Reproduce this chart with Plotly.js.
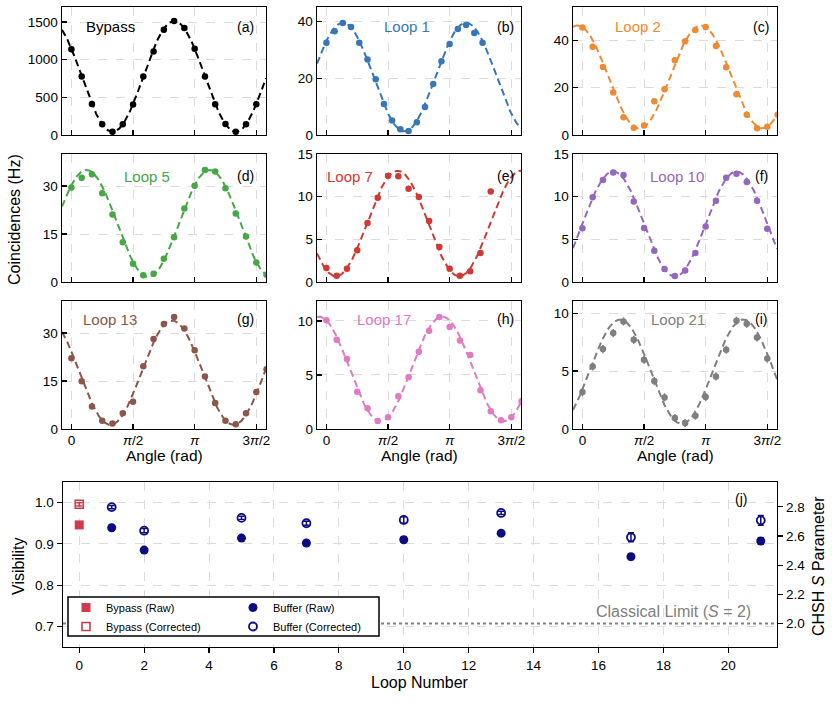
<!DOCTYPE html>
<html>
<head>
<meta charset="utf-8">
<script src="https://cdn.plot.ly/plotly-3.0.1.min.js"></script>
<style>
  html, body { margin: 0; padding: 0; background: #fff; }
  #chart { width: 832px; height: 714px; }
</style>
</head>
<body>
<div id="chart"></div>
<script>
// ---- Polarisation-analyser angles (degrees) ----
const angles15 = [0, 15, 30, 45, 60, 75, 90, 105, 120, 135, 150, 165, 180, 195, 210, 225, 240, 255, 270, 285];
const angles12 = [0, 12, 24, 36, 48, 60, 72, 84, 96, 108, 120, 132, 144, 156, 168, 180, 192, 204, 216, 228];

// ---- Coincidence counts (Hz) per configuration ----
const bypassCounts = [1140, 777, 413, 142, 44, 142, 404, 777, 1109, 1398, 1513, 1420, 1145, 777, 408, 146, 44, 142, 408];
const loop1Counts  = [32.4, 36.5, 39.4, 38.0, 32.4, 26.5, 19.6, 10.9, 5.1, 2.0, 1.4, 4.5, 9.8, 17.9, 25.9, 32.0, 37.3, 38.7, 35.9, 32.4];
const loop2Counts  = [45.4, 37.2, 28.7, 17.9, 7.5, 3.1, 4.0, 14.2, 19.3, 31.5, 39.6, 44.3, 45.6, 37.5, 28.6, 17.2, 8.5, 2.9, 3.5, 8.6];
const loop5Counts  = [29.5, 32.6, 33.7, 27.7, 21.1, 12.4, 5.7, 2.1, 2.6, 7.3, 14.0, 23.0, 30.1, 35.0, 34.5, 29.3, 21.4, 14.2, 6.1, 2.3];
const loop7Counts  = [1.64, 0.74, 1.56, 3.71, 6.91, 9.88, 12.46, 12.38, 10.94, 9.96, 7.15, 4.10, 1.56, 0.74, 1.25, 3.40, 10.6];
const loop10Counts = [6.30, 9.92, 11.95, 12.84, 12.53, 9.42, 6.34, 3.66, 1.52, 0.70, 1.36, 3.39, 6.50, 9.53, 12.22, 12.68, 11.71, 9.53, 6.23];
const loop13Counts = [22.1, 14.9, 7.0, 2.6, 1.7, 4.9, 8.5, 19.6, 28.1, 32.8, 35.0, 31.4, 24.6, 16.4, 8.1, 2.6, 1.5, 4.9, 11.6, 18.7];
const loop17Counts = [10.06, 8.27, 6.47, 3.44, 1.92, 0.74, 1.08, 3.03, 4.80, 7.15, 9.10, 10.37, 9.44, 8.20, 6.84, 3.59, 1.64, 0.80, 1.08, 2.57];
const loop21Counts = [3.19, 5.40, 6.90, 8.28, 9.28, 7.70, 5.98, 4.14, 2.73, 0.95, 0.52, 1.15, 2.76, 4.54, 6.84, 9.34, 9.08, 7.90, 6.09];

// Error on each count, one value per panel (Hz)
const countErr = [6, 0.35, 0.35, 0.35, 0.3, 0.3, 0.35, 0.25, 0.35];

// Cosine fit  C + A cos(2(θ - θmax)) : [offset, amplitude, θmax in degrees]
const fitBypass = [778, 735, 150];
const fitLoop1  = [20.35, 19.1, 24];
const fitLoop2  = [24.5, 21.7, 173];
const fitLoop5  = [18.3, 16.7, 22];
const fitLoop7  = [6.85, 6.18, 104];
const fitLoop10 = [6.8, 6.15, 45];
const fitLoop13 = [17.6, 16.3, 147];
const fitLoop17 = [5.56, 4.84, 169];
const fitLoop21 = [4.95, 4.5, 55];

const panelNames  = ['Bypass', 'Loop 1', 'Loop 2', 'Loop 5', 'Loop 7', 'Loop 10', 'Loop 13', 'Loop 17', 'Loop 21'];
const panelTags   = ['(a)', '(b)', '(c)', '(d)', '(e)', '(f)', '(g)', '(h)', '(i)'];
const yTickValues = [[0, 500, 1000, 1500], [0, 20, 40], [0, 20, 40], [0, 15, 30], [0, 5, 10, 15], [0, 5, 10, 15], [0, 15, 30], [0, 5, 10], [0, 5, 10]];
const angleTickLabels = ['0', '<i>π</i>/2', '<i>π</i>', '3<i>π</i>/2'];

// ---- Visibility summary ----
const bypassLoop = [0];
const bypassRaw = [0.946], bypassRawErr = [0.003];
const bypassCorr = [0.996], bypassCorrErr = [0.004];
const bufferLoops = [1, 2, 5, 7, 10, 13, 17, 21];
const bufferRaw     = [0.939, 0.885, 0.914, 0.902, 0.910, 0.926, 0.869, 0.907];
const bufferRawErr  = [0.004, 0.004, 0.004, 0.004, 0.006, 0.004, 0.007, 0.008];
const bufferCorr    = [0.989, 0.932, 0.963, 0.950, 0.958, 0.975, 0.916, 0.957];
const bufferCorrErr = [0.004, 0.005, 0.004, 0.005, 0.008, 0.004, 0.011, 0.012];
const classicalLimit = 2;
const sTickValues = [2.0, 2.2, 2.4, 2.6, 2.8];

// ---------------------------------------------------------------------
const W = 832, H = 714;
const FONT = 'Liberation Sans, Arial, Helvetica, sans-serif';
const px = v => v / W;
const py = v => 1 - v / H;
const DEG = Math.PI / 180;

const colors = ['#000000', '#3777b7', '#ef8a32', '#45a745', '#d03a32', '#9467bd', '#8c564b', '#e07ac4', '#7f7f7f'];
const counts = [bypassCounts, loop1Counts, loop2Counts, loop5Counts, loop7Counts, loop10Counts, loop13Counts, loop17Counts, loop21Counts];
const fits = [fitBypass, fitLoop1, fitLoop2, fitLoop5, fitLoop7, fitLoop10, fitLoop13, fitLoop17, fitLoop21];
const angleSets = [angles15, angles12, angles15, angles15, angles15, angles15, angles15, angles15, angles15];
const yMax = [1700, 45, 54, 40, 15, 15, 40, 11.85, 11.05];

// Grid geometry (pixels)
const colX = [[62, 266], [317, 521], [573, 777]];
const rowY = [[7, 135], [154, 282], [301, 429]];
const angleRange = [-0.24, 4.96];

const data = [];
const layout = {
  width: W, height: H,
  margin: {l: 0, r: 0, t: 0, b: 0},
  paper_bgcolor: '#fff', plot_bgcolor: '#fff',
  font: {family: FONT, size: 13.5, color: '#000'},
  showlegend: true,
  annotations: [],
  shapes: []
};

const axisCommon = {
  showline: true, linecolor: '#000', linewidth: 1.4, mirror: true,
  ticks: 'inside', ticklen: 5, tickwidth: 1.2, tickcolor: '#000',
  showgrid: true, gridcolor: '#dcdcdc', gridwidth: 1, griddash: 'dash',
  zeroline: false, tickfont: {family: FONT, size: 13.5, color: '#000'}
};

for (let k = 0; k < 9; k++) {
  const r = Math.floor(k / 3), c = k % 3;
  const id = k === 0 ? '' : String(k + 1);
  const xa = 'x' + id, ya = 'y' + id;
  const col = colors[k];
  const ang = angleSets[k].slice(0, counts[k].length).map(d => d * DEG);

  // fitted fringe
  const [C, A, thDeg] = fits[k];
  const fx = [], fy = [];
  for (let i = 0; i <= 300; i++) {
    const t = angleRange[0] + (angleRange[1] - angleRange[0]) * i / 300;
    fx.push(t);
    fy.push(C + A * Math.cos(2 * (t - thDeg * DEG)));
  }
  data.push({
    x: fx, y: fy, xaxis: xa, yaxis: ya, type: 'scatter', mode: 'lines',
    line: {color: col, width: 2, dash: '7px,4px'}, showlegend: false, hoverinfo: 'skip'
  });
  // measured points
  data.push({
    x: ang, y: counts[k], xaxis: xa, yaxis: ya, type: 'scatter', mode: 'markers',
    marker: {color: col, size: 6.5},
    error_y: {type: 'constant', value: countErr[k], color: col, thickness: 1.5, width: 0},
    showlegend: false
  });

  layout['xaxis' + id] = Object.assign({}, axisCommon, {
    domain: [px(colX[c][0]), px(colX[c][1])],
    anchor: ya, range: angleRange,
    tickvals: [0, Math.PI / 2, Math.PI, 3 * Math.PI / 2],
    ticktext: angleTickLabels,
    showticklabels: r === 2,
    ticklabelstandoff: -2
  });
  layout['yaxis' + id] = Object.assign({}, axisCommon, {
    domain: [py(rowY[r][1]), py(rowY[r][0])],
    anchor: xa, range: [0, yMax[k]],
    tickvals: yTickValues[k]
  });

  // series name and panel tag
  const nameX = [[110, 407, 638], [147, 350, 677], [110, 384, 678]][r][c];
  const yMid = [27, 176, 319][r];
  layout.annotations.push({
    xref: 'paper', yref: 'paper', x: px(nameX), y: py(yMid),
    text: panelNames[k], showarrow: false, xanchor: 'center', yanchor: 'middle',
    font: {family: FONT, size: 15, color: col}
  });
  const tagX = [245, 505, 761][c];
  layout.annotations.push({
    xref: 'paper', yref: 'paper', x: px(tagX), y: py(yMid),
    text: panelTags[k], showarrow: false, xanchor: 'center', yanchor: 'middle',
    font: {family: FONT, size: 14, color: '#000'}
  });
}

// Axis titles of the fringe grid
[164, 419, 675].forEach(cx => layout.annotations.push({
  xref: 'paper', yref: 'paper', x: px(cx), y: py(456), text: 'Angle (rad)',
  showarrow: false, xanchor: 'center', yanchor: 'middle',
  font: {family: FONT, size: 15.5, color: '#000'}
}));
layout.annotations.push({
  xref: 'paper', yref: 'paper', x: px(14), y: py(220), text: 'Coincidences (Hz)',
  textangle: -90, showarrow: false, xanchor: 'center', yanchor: 'middle',
  font: {family: FONT, size: 16, color: '#000'}
});

// ---- Visibility vs loop number ----
const visRange = [0.65, 1.05];
const sRange = visRange.map(v => 2 * Math.SQRT2 * v);
const loopRange = [-0.5, 21.5];
const red = '#d3394c', navy = '#0b0b84';

layout.xaxis10 = Object.assign({}, axisCommon, {
  domain: [px(63), px(777)], anchor: 'y10', range: loopRange,
  tickvals: [0, 2, 4, 6, 8, 10, 12, 14, 16, 18, 20], ticks: 'outside', mirror: true
});
layout.yaxis10 = Object.assign({}, axisCommon, {
  domain: [py(647), py(482)], anchor: 'x10', range: visRange,
  tickvals: [0.7, 0.8, 0.9, 1.0], tickformat: '.1f', ticks: 'outside', mirror: true
});
layout.yaxis11 = Object.assign({}, axisCommon, {
  overlaying: 'y10', anchor: 'x10', side: 'right', range: sRange,
  tickvals: sTickValues, tickformat: '.1f', ticks: 'outside', showgrid: false, mirror: false
});

// classical bound S = 2 on the CHSH axis
data.push({
  x: loopRange, y: [classicalLimit, classicalLimit], xaxis: 'x10', yaxis: 'y11',
  type: 'scatter', mode: 'lines', line: {color: '#808080', width: 2, dash: 'dot'},
  showlegend: false, hoverinfo: 'skip'
});

data.push({
  x: bypassLoop, y: bypassRaw, xaxis: 'x10', yaxis: 'y10', type: 'scatter', mode: 'markers',
  name: 'Bypass (Raw)', legend: 'legend',
  marker: {symbol: 'square', size: 9, color: red},
  error_y: {type: 'data', array: bypassRawErr, color: red, thickness: 1.5, width: 3}
});
data.push({
  x: bypassLoop, y: bypassCorr, xaxis: 'x10', yaxis: 'y10', type: 'scatter', mode: 'markers',
  name: 'Bypass (Corrected)', legend: 'legend',
  marker: {symbol: 'square-open', size: 8, color: red, line: {width: 1.6}},
  error_y: {type: 'data', array: bypassCorrErr, color: red, thickness: 1.5, width: 3}
});
data.push({
  x: bufferLoops, y: bufferRaw, xaxis: 'x10', yaxis: 'y10', type: 'scatter', mode: 'markers',
  name: 'Buffer (Raw)', legend: 'legend2',
  marker: {symbol: 'circle', size: 9, color: navy},
  error_y: {type: 'data', array: bufferRawErr, color: navy, thickness: 1.5, width: 3}
});
data.push({
  x: bufferLoops, y: bufferCorr, xaxis: 'x10', yaxis: 'y10', type: 'scatter', mode: 'markers',
  name: 'Buffer (Corrected)', legend: 'legend2',
  marker: {symbol: 'circle-open', size: 8, color: navy, line: {width: 1.8}},
  error_y: {type: 'data', array: bufferCorrErr, color: navy, thickness: 1.5, width: 3}
});

// Legend frame (white box drawn over the plot area, entries on top)
layout.shapes.push({
  type: 'rect', xref: 'paper', yref: 'paper', layer: 'above',
  x0: px(68), x1: px(379), y0: py(636), y1: py(597),
  line: {color: '#000', width: 1.5}, fillcolor: '#fff'
});
const legendFont = {family: FONT, size: 11, color: '#000'};
layout.legend = {
  bgcolor: 'rgba(0,0,0,0)', borderwidth: 0, orientation: 'v',
  xanchor: 'left', yanchor: 'top', x: px(66), y: py(593),
  font: legendFont, tracegroupgap: 0, itemwidth: 30
};
layout.legend2 = {
  bgcolor: 'rgba(0,0,0,0)', borderwidth: 0, orientation: 'v',
  xanchor: 'left', yanchor: 'top', x: px(233), y: py(593),
  font: legendFont, tracegroupgap: 0, itemwidth: 30
};

layout.annotations.push(
  {xref: 'paper', yref: 'paper', x: px(753), y: py(611), text: 'Classical Limit (<i>S</i> = 2)',
   showarrow: false, xanchor: 'right', yanchor: 'middle', font: {family: FONT, size: 16, color: '#808080'}},
  {xref: 'paper', yref: 'paper', x: px(741), y: py(499), text: '(j)',
   showarrow: false, xanchor: 'center', yanchor: 'middle', font: {family: FONT, size: 14, color: '#000'}},
  {xref: 'paper', yref: 'paper', x: px(18), y: py(566), text: 'Visibility', textangle: -90,
   showarrow: false, xanchor: 'center', yanchor: 'middle', font: {family: FONT, size: 16, color: '#000'}},
  {xref: 'paper', yref: 'paper', x: px(420), y: py(682), text: 'Loop Number',
   showarrow: false, xanchor: 'center', yanchor: 'middle', font: {family: FONT, size: 16, color: '#000'}},
  {xref: 'paper', yref: 'paper', x: px(818), y: py(566), text: 'CHSH <i>S</i> Parameter', textangle: -90,
   showarrow: false, xanchor: 'center', yanchor: 'middle', font: {family: FONT, size: 16, color: '#000'}}
);

Plotly.newPlot('chart', data, layout, {displayModeBar: false, staticPlot: true});
</script>
</body>
</html>
